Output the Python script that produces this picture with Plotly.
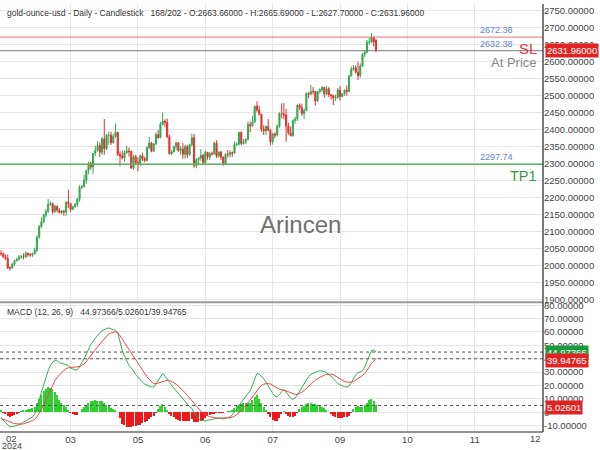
import plotly.graph_objects as go
from plotly.subplots import make_subplots

# ---------------- data ----------------
bar_index = list(range(168))
opens = [2035,2034,2024,2020,1992,1992,2004,2013,2017,2024,2025,2024,2035,2031,2030,2034,2044,2083,2114,2128,
         2148,2159,2179,2182,2158,2174,2162,2155,2160,2157,2186,2181,2165,2172,2179,2195,2230,2233,2251,2280,
         2300,2290,2330,2339,2353,2333,2372,2344,2383,2383,2361,2379,2392,2327,2322,2316,2332,2337,2335,2286,
         2320,2303,2301,2323,2314,2309,2346,2360,2336,2358,2385,2376,2415,2425,2421,2379,2329,2334,2350,2361,
         2338,2343,2327,2350,2326,2355,2376,2294,2311,2316,2324,2303,2333,2319,2329,2328,2360,2322,2334,2319,
         2298,2327,2326,2332,2330,2356,2357,2392,2359,2364,2371,2415,2411,2422,2469,2458,2445,2401,2396,2409,
         2398,2364,2387,2384,2410,2447,2446,2443,2410,2390,2382,2427,2431,2472,2465,2447,2456,2507,2504,2513,
         2512,2484,2512,2518,2524,2504,2520,2503,2500,2493,2495,2516,2497,2506,2516,2512,2558,2578,2582,2569,
         2559,2587,2622,2628,2657,2657,2672,2663.66]
highs = [2044,2038,2032,2032,1997,2006,2016,2022,2030,2030,2035,2041,2038,2037,2037,2052,2088,2119,2141,2152,
         2165,2195,2189,2185,2178,2176,2168,2163,2163,2188,2223,2183,2176,2184,2199,2236,2236,2266,2281,2305,
         2305,2331,2353,2365,2362,2378,2431,2387,2394,2393,2388,2418,2393,2336,2338,2339,2353,2347,2338,2326,
         2326,2318,2326,2332,2320,2351,2378,2364,2359,2392,2398,2423,2450,2430,2432,2385,2340,2352,2364,2362,
         2351,2360,2354,2354,2358,2388,2387,2315,2318,2342,2328,2338,2334,2334,2335,2365,2368,2335,2336,2320,
         2330,2340,2339,2335,2365,2363,2392,2394,2372,2375,2424,2424,2440,2469,2483,2470,2446,2412,2412,2431,
         2401,2390,2392,2415,2451,2477,2478,2461,2420,2409,2430,2438,2474,2477,2476,2462,2509,2510,2531,2525,
         2513,2514,2521,2528,2526,2529,2525,2505,2503,2503,2523,2529,2508,2518,2530,2560,2586,2590,2589,2600,
         2595,2625,2633,2664,2670,2685,2674,2665.69]
lows = [2028,2022,2015,1990,1984,1990,1998,2011,2014,2020,2017,2022,2025,2025,2025,2032,2038,2078,2110,2124,
        2141,2155,2175,2150,2155,2156,2153,2150,2146,2146,2168,2157,2163,2170,2172,2187,2225,2228,2240,2268,
        2282,2268,2322,2335,2319,2325,2326,2339,2355,2355,2359,2376,2322,2292,2312,2305,2328,2320,2285,2281,
        2296,2277,2291,2307,2303,2306,2343,2333,2334,2354,2373,2376,2412,2408,2374,2326,2325,2333,2340,2334,
        2326,2314,2314,2316,2322,2351,2287,2286,2298,2308,2295,2299,2311,2310,2323,2326,2316,2317,2310,2293,
        2296,2318,2318,2319,2328,2352,2353,2353,2356,2357,2368,2392,2409,2420,2451,2442,2393,2384,2384,2395,
        2353,2356,2374,2379,2405,2433,2430,2364,2385,2380,2379,2417,2425,2458,2440,2431,2454,2492,2503,2504,
        2471,2482,2506,2511,2494,2501,2495,2488,2472,2484,2490,2485,2496,2500,2500,2510,2556,2573,2565,2546,
        2553,2584,2614,2625,2650,2655,2645,2627.70]
closes = [2034,2024,2020,1992,1992,2004,2013,2017,2024,2025,2024,2035,2031,2030,2034,2044,2083,2114,2128,2148,
          2159,2179,2182,2158,2174,2162,2155,2160,2157,2186,2181,2165,2172,2179,2195,2230,2233,2251,2280,2300,
          2290,2330,2339,2353,2333,2372,2344,2383,2383,2361,2379,2392,2327,2322,2316,2332,2337,2335,2286,2320,
          2303,2301,2323,2314,2309,2346,2360,2336,2358,2385,2376,2415,2425,2421,2379,2329,2334,2350,2361,2338,
          2343,2327,2350,2326,2355,2376,2294,2311,2316,2324,2303,2333,2319,2329,2328,2360,2322,2334,2319,2298,
          2327,2326,2332,2330,2356,2357,2392,2359,2364,2371,2415,2411,2422,2469,2458,2445,2401,2396,2409,2398,
          2364,2387,2384,2410,2447,2446,2443,2410,2390,2382,2427,2431,2472,2465,2447,2456,2507,2504,2513,2512,
          2484,2512,2518,2524,2504,2520,2503,2500,2493,2495,2516,2497,2506,2516,2512,2558,2578,2582,2569,2559,
          2587,2622,2628,2657,2657,2672,2658,2631.96]

macd = [-4,-6,-7.5,-9.5,-11,-11,-10.5,-10,-9.5,-8.5,-7.5,-6.5,-5.5,-4.5,-3.5,-1.5,3,9,15,21,
        26,31,35,37.5,38.5,38.5,37,36.5,36.5,36,35,33,32,31.5,31.6,34,37,40,43.6,47,
        50.5,53,55.5,57.5,59.5,61,62,62.5,63,62.5,62,61,59.5,53,46,42,38.5,35,33,31,
        28,26,24,22.5,21,20,19.5,19,18.8,21,24,27,29,27,25,22.5,20,18,15.5,13.5,
        11.4,9.5,7.5,6,4,3,-1,-3,-5,-6,-6.5,-6.5,-6,-6,-5.5,-5,-4.5,-4.5,-4.5,-5,
        -4.5,-4,-3.5,-2,0,2.5,5,7.5,10,12,14,16,20,25,29,28.5,27,25,22.5,20,
        17,14,12,11.4,13,15.5,17,15,12.5,10.5,9.6,10.5,13,16,18.8,21,24,26.5,28.5,29,
        30,30.5,31,31,30.5,29.5,28.5,27,25,23,21.5,20.6,19.5,19,18.8,19.5,22,25,28,29.5,
        30,31,34,38,43,46,46.5,44.97366]
signal = [-5,-5.3,-5.8,-6.5,-7.4,-8,-8.5,-8.8,-9,-9,-8.7,-8.3,-7.7,-7,-6.3,-5.3,-3.5,-1,2,5.5,
          9,12.6,17,20.5,23.5,26,28,29.5,31,32.6,33.2,33.5,33.7,34,34,34,34.7,36,38,40,
          42.3,44.5,46.7,49,51,53,55,57,58.5,59.3,59.8,60,59.5,57.5,55,52,49.5,46.5,44,41.5,
          38.5,36,33.5,31,28.5,26.5,24.5,22.8,21.5,21.3,21.8,22.3,22.8,23.5,23.8,23.8,23,22,21,19.5,
          18,16.5,14.5,12.5,10.5,8.5,6.5,4.5,2.5,0.8,-0.6,-1.8,-2.7,-3.4,-3.8,-4.1,-4.3,-4.4,-4.4,-4.5,
          -4.5,-4.4,-4.2,-3.8,-3,-1.8,-0.4,1.2,3,5,7,9,11,13.5,16,18.5,20,21,21.5,21.5,
          21,20,19,18,17.2,16.8,16.5,16,15.3,14.5,13.7,13.2,13.3,14,15,16.2,17.8,19.5,21.5,22.8,
          24,25.2,26.2,27,27.7,28.2,28.5,28.5,28,27,26,24.8,23.8,23,22.5,22.3,22.5,23,24,25.2,
          26.4,27.5,29,31,33.7,36.5,38.5,39.94765]
hist = [m - s for m, s in zip(macd, signal)]

price_ticks = list(range(1900, 2751, 50))
macd_ticks = list(range(-10, 81, 10))
month_tick_pos = [31, 61, 91, 121, 151, 181, 211]
month_tick_txt = ["03", "05", "06", "07", "09", "10", "11"]

sl_level, at_price_level, tp1_level = 2672.38, 2632.38, 2297.74
last_close = 2631.96
macd_last, hist_last, signal_last = 44.97366, 5.02601, 39.94765

# ---------------- figure ----------------
fig = make_subplots(rows=2, cols=1, shared_xaxes=True)

fig.add_trace(go.Candlestick(
    x=bar_index, open=opens, high=highs, low=lows, close=closes,
    increasing=dict(line=dict(color="#37a852", width=1), fillcolor="#37a852"),
    decreasing=dict(line=dict(color="#e03131", width=1), fillcolor="#e03131"),
    whiskerwidth=0, showlegend=False, hoverinfo="skip"), row=1, col=1)

fig.add_trace(go.Bar(
    x=bar_index, y=hist, width=0.6,
    marker=dict(color=["#2fd02f" if h >= 0 else "#ee1a1a" for h in hist], line=dict(width=0)),
    showlegend=False, hoverinfo="skip"), row=2, col=1)
fig.add_trace(go.Scatter(x=bar_index, y=macd, mode="lines",
                         line=dict(color="#3aaa55", width=1), showlegend=False, hoverinfo="skip"), row=2, col=1)
fig.add_trace(go.Scatter(x=bar_index, y=signal, mode="lines",
                         line=dict(color="#e84848", width=1), showlegend=False, hoverinfo="skip"), row=2, col=1)

PLOT_W, PLOT_H = 543, 432
price_dom = [132 / PLOT_H, 1]
macd_dom = [0, 130 / PLOT_H]
xr = [-0.45, 241.4]
grid = "#e6e6e6"
tickfont = dict(family="Liberation Sans, Arial, sans-serif", size=9.5, color="#444")

fig.update_layout(
    width=600, height=450, margin=dict(l=0, r=57, t=0, b=18),
    paper_bgcolor="white", plot_bgcolor="white",
    font=dict(family="Liberation Sans, Arial, sans-serif"),
    xaxis=dict(range=xr, rangeslider=dict(visible=False), showticklabels=False,
               tickvals=month_tick_pos, showgrid=True, gridcolor=grid, gridwidth=1,
               zeroline=False, showline=False, ticks=""),
    xaxis2=dict(range=xr, rangeslider=dict(visible=False), tickvals=month_tick_pos, ticktext=month_tick_txt,
                showgrid=True, gridcolor=grid, gridwidth=1, zeroline=False, showline=False,
                ticks="", tickfont=tickfont),
    yaxis=dict(domain=price_dom, range=[1894, 2770], side="right", tickvals=price_ticks,
               ticktext=["%.5f" % v for v in price_ticks], tickfont=tickfont,
               showgrid=True, gridcolor=grid, zeroline=False, showline=False, ticks=""),
    yaxis2=dict(domain=macd_dom, range=[-14.8, 81.5], side="right", tickvals=macd_ticks,
                ticktext=["0" if v == 0 else "%.5f" % v for v in macd_ticks], tickfont=tickfont,
                showgrid=True, gridcolor=grid, zeroline=False, showline=False, ticks=""),
    bargap=0,
)

# horizontal level lines
fig.add_shape(type="line", xref="paper", x0=0, x1=1, yref="y", y0=sl_level, y1=sl_level,
              line=dict(color="#f07070", width=1))
fig.add_shape(type="line", xref="paper", x0=0, x1=1, yref="y", y0=at_price_level, y1=at_price_level,
              line=dict(color="#777777", width=1))
fig.add_shape(type="line", xref="paper", x0=0, x1=1, yref="y", y0=tp1_level, y1=tp1_level,
              line=dict(color="#5cb85c", width=1.5))
for lv in (macd_last, signal_last, hist_last):
    fig.add_shape(type="line", xref="paper", x0=0, x1=1, yref="y2", y0=lv, y1=lv,
                  line=dict(color="#555555", width=1, dash="dot"))

# pane separator and axis frame
fig.add_shape(type="line", xref="paper", yref="paper", x0=0, x1=1, y0=131 / PLOT_H, y1=131 / PLOT_H,
              line=dict(color="#999999", width=2))
fig.add_shape(type="line", xref="paper", yref="paper", x0=1, x1=1, y0=0, y1=1,
              line=dict(color="#222222", width=1.2))
fig.add_shape(type="line", xref="paper", yref="paper", x0=0, x1=1, y0=0, y1=0,
              line=dict(color="#222222", width=1.2))

blue = "#5b82e0"
def ann(**kw):
    fig.add_annotation(showarrow=False, **kw)

for lv in (sl_level, at_price_level, tp1_level):
    ann(text="%.2f" % lv, xref="paper", x=478 / PLOT_W, xanchor="left", yref="y", y=lv,
        yanchor="bottom", yshift=0, font=dict(size=9, color=blue))

ann(text="SL", xref="paper", x=539 / PLOT_W, xanchor="right", yref="y", y=2638.7, yanchor="middle",
    font=dict(size=15, color="#e03a3a"))
ann(text="At Price", xref="paper", x=539 / PLOT_W, xanchor="right", yref="y", y=2597.8, yanchor="middle",
    font=dict(size=13, color="#888888"))
ann(text="TP1", xref="paper", x=539 / PLOT_W, xanchor="right", yref="y", y=2262, yanchor="middle",
    font=dict(size=14.5, color="#3a9a3a"))

# value tags on the right axis
ann(text="%.5f" % last_close, xref="paper", x=1.004, xanchor="left", yref="y", y=last_close,
    yanchor="middle", bgcolor="#e02424", borderpad=1, font=dict(size=9.5, color="white"))
ann(text="%.5f" % macd_last, xref="paper", x=1.004, xanchor="left", yref="y2", y=macd_last,
    yanchor="middle", bgcolor="#1a9a3a", borderpad=1, font=dict(size=9.5, color="white"))
ann(text="%.5f" % signal_last, xref="paper", x=1.004, xanchor="left", yref="y2", y=signal_last - 1.5,
    yanchor="middle", bgcolor="#e02424", borderpad=1, font=dict(size=9.5, color="white"))
ann(text="%.5f" % hist_last, xref="paper", x=1.004, xanchor="left", yref="y2", y=hist_last - 1.2,
    yanchor="middle", bgcolor="#e02424", borderpad=1, font=dict(size=9.5, color="white"))

# headers
ann(text="gold-ounce-usd - Daily - Candlestick   168/202 - O:2663.66000 - H:2665.69000 - L:2627.70000 - C:2631.96000",
    xref="paper", x=5 / PLOT_W, xanchor="left", yref="paper", y=1 - 9 / PLOT_H, yanchor="middle",
    font=dict(size=8.5, color="#333"))
ann(text="MACD (12, 26, 9)   44.97366/5.02601/39.94765",
    xref="paper", x=5 / PLOT_W, xanchor="left", yref="paper", y=(PLOT_H - 311) / PLOT_H, yanchor="middle",
    font=dict(size=8.5, color="#333"))

# watermark
ann(text="Arincen", xref="paper", x=300 / PLOT_W, xanchor="center", yref="paper", y=(PLOT_H - 223) / PLOT_H,
    yanchor="middle", font=dict(size=24, color="#707070"))

# x-axis end labels
ann(text="02", xref="paper", x=11 / PLOT_W, xanchor="center", yref="paper", y=0, yanchor="middle",
    yshift=-6, borderpad=0, font=tickfont)
ann(text="2024", xref="paper", x=12 / PLOT_W, xanchor="center", yref="paper", y=0, yanchor="middle",
    yshift=-13.5, borderpad=0, font=dict(family="Liberation Sans, Arial, sans-serif", size=9, color="#444"))
ann(text="12", xref="paper", x=535 / PLOT_W, xanchor="center", yref="paper", y=0, yanchor="middle",
    yshift=-6, borderpad=0, font=tickfont)

fig.write_html("out.html")
